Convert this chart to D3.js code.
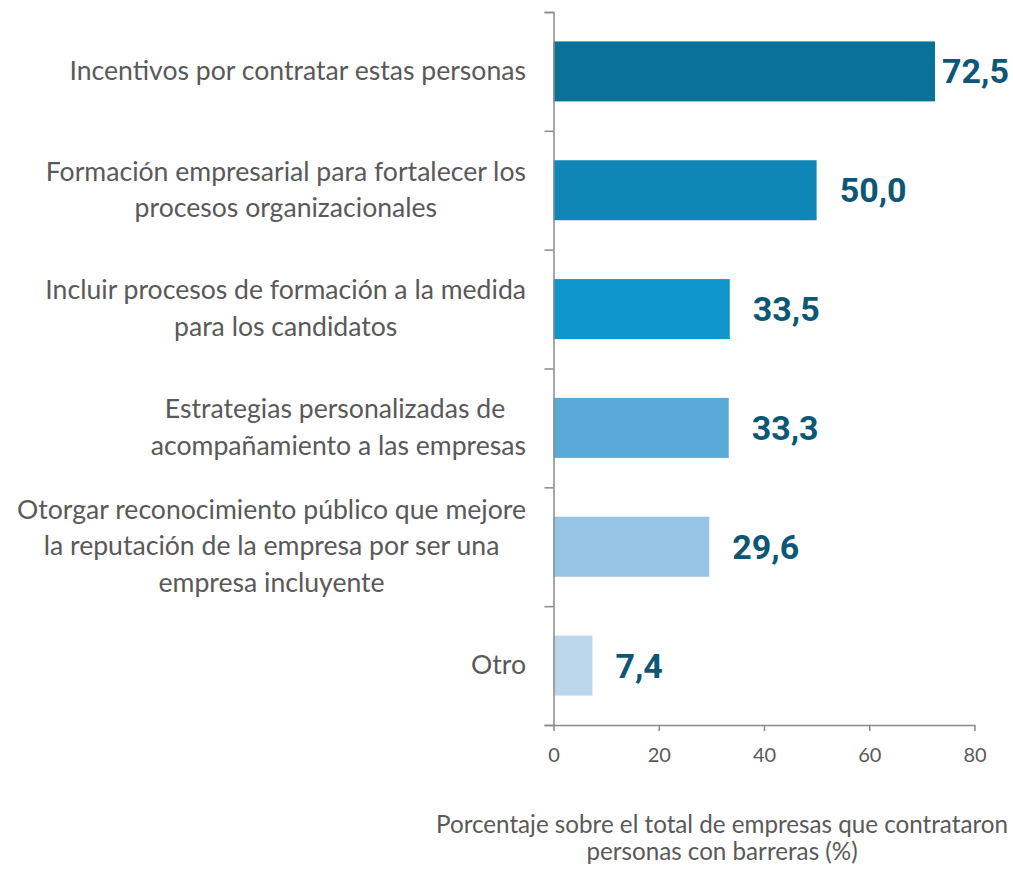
<!DOCTYPE html>
<html>
<head>
<meta charset="utf-8">
<script src="https://cdn.jsdelivr.net/npm/d3@7"></script>
<style>
  body { margin: 0; background: #fff; }
  svg { display: block; }
</style>
</head>
<body>
<div id="chart"></div>
<script>
// categories, one entry per line of the label
var categories = [
  ["Incentivos por contratar estas personas"],
  ["Formación empresarial para fortalecer los", "procesos organizacionales"],
  ["Incluir procesos de formación a la medida", "para los candidatos"],
  ["Estrategias personalizadas de ", "acompañamiento a las empresas"],
  ["Otorgar reconocimiento público que mejore", "la reputación de la empresa por ser una", "empresa incluyente"],
  ["Otro"]
];
var values = [72.5, 50.0, 33.5, 33.3, 29.6, 7.4];
var barColors = ["#0a7199", "#0e87b7", "#0f97cb", "#5aaad9", "#97c3e4", "#bcd7ec"];
var xTicks = [0, 20, 40, 60, 80];
var axisTitle = ["Porcentaje sobre el total de empresas que contrataron", "personas con barreras (%)"];

var W = 1013, H = 872;
var plotLeft = 553.5, plotRight = 974.5, plotTop = 12, plotBottom = 725;

var svg = d3.select("#chart").append("svg")
    .attr("width", W)
    .attr("height", H);

var ids = d3.range(categories.length);

var x = d3.scaleLinear().domain([0, 80]).range([plotLeft, plotRight]);
var y = d3.scaleBand().domain(ids).range([plotTop, plotBottom])
    .paddingInner(0.495).paddingOuter(0.2475);
// boundaries between categories, for the tick marks on the left axis
var yEdge = d3.scaleLinear().domain([0, categories.length]).range([plotTop, plotBottom]);

// bars
svg.append("g").selectAll("rect")
    .data(ids)
    .join("rect")
    .attr("x", x(0))
    .attr("y", function(i) { return y(i); })
    .attr("width", function(i) { return x(values[i]) - x(0); })
    .attr("height", y.bandwidth())
    .attr("fill", function(i) { return barColors[i]; });

// left axis: line with ticks at the category edges
var yAxis = svg.append("g")
    .attr("transform", "translate(" + plotLeft + ",0)")
    .call(d3.axisLeft(yEdge).tickValues(d3.range(categories.length + 1)).tickSize(9).tickFormat(""));
yAxis.select(".domain").attr("stroke", "#8a8a8a").attr("stroke-width", 1.5);
yAxis.selectAll(".tick line").attr("stroke", "#8a8a8a").attr("stroke-width", 1.5);

// bottom axis
var xAxis = svg.append("g")
    .attr("transform", "translate(0," + plotBottom + ")")
    .call(d3.axisBottom(x).tickValues(xTicks).tickSize(6).tickPadding(17).tickSizeOuter(0));
xAxis.select(".domain").attr("stroke", "#8a8a8a").attr("stroke-width", 1.5);
xAxis.selectAll(".tick line").attr("stroke", "#8a8a8a").attr("stroke-width", 1.5);
xAxis.selectAll(".tick text")
    .attr("fill", "#595959")
    .style("font-family", "Lato, 'Noto Sans', sans-serif")
    .style("font-size", "20px");

// category labels: each block centred on its widest line, right edge at 526
var labelRight = 526, lineH = 36.5;
var labelG = svg.append("g")
    .style("font-family", "Lato, 'Noto Sans', sans-serif")
    .style("font-size", "26.6px")
    .attr("fill", "#595959");
ids.forEach(function(i) {
  var lines = categories[i];
  var cy = y(i) + y.bandwidth() / 2;
  var t = labelG.append("text").attr("text-anchor", "middle");
  var spans = t.selectAll("tspan").data(lines).join("tspan")
      .text(function(d) { return d; })
      .attr("y", function(d, k) { return cy + (k - (lines.length - 1) / 2) * lineH + 8.5; });
  var maxW = 0;
  spans.each(function() { maxW = Math.max(maxW, this.getComputedTextLength()); });
  spans.attr("x", labelRight - maxW / 2);
});

// value labels
var valG = svg.append("g")
    .style("font-family", "Roboto, 'Liberation Sans', sans-serif")
    .style("font-size", "34px")
    .style("font-weight", "700")
    .attr("fill", "#0c5775");
ids.forEach(function(i) {
  var t = valG.append("text")
      .text(d3.format(".1f")(values[i]).replace(".", ","))
      .attr("y", y(i) + y.bandwidth() / 2 + 12);
  var tw = t.node().getComputedTextLength();
  t.attr("x", Math.min(x(values[i]) + 23, W - 4 - tw));
});

// axis title
svg.append("text")
    .attr("text-anchor", "middle")
    .style("font-family", "Lato, 'Noto Sans', sans-serif")
    .style("font-size", "24.2px")
    .attr("fill", "#595959")
    .selectAll("tspan").data(axisTitle).join("tspan")
    .attr("x", 722)
    .attr("y", function(d, k) { return 833 + k * 27; })
    .text(function(d) { return d; });
</script>
</body>
</html>
